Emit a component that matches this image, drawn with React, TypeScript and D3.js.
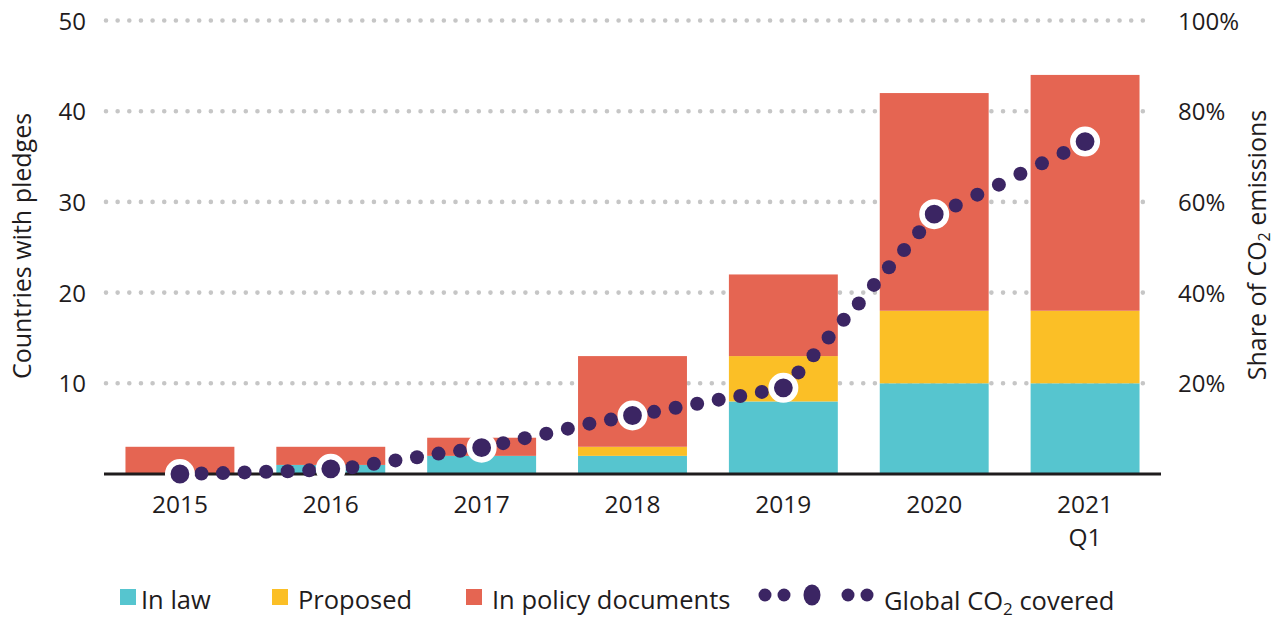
import { useEffect, useRef } from 'react';
import * as d3 from 'd3';

const categories = ['2015', '2016', '2017', '2018', '2019', '2020', '2021'];
const categorySubLabels = ['', '', '', '', '', '', 'Q1'];
const inLaw = [0, 1, 2, 2, 8, 10, 10];
const proposed = [0, 0, 0, 1, 5, 8, 8];
const inPolicy = [3, 2, 2, 10, 9, 24, 26];
const leftTicks = [10, 20, 30, 40, 50];
const rightTicks = [20, 40, 60, 80, 100];

// share of global CO2 covered (%), one list per stretch between two years;
// the first value of each list is the year itself (big dot)
const shareSegments = [
  [0, 0.1, 0.2, 0.35, 0.5, 0.6, 0.8],
  [1.15, 1.5, 2.25, 3.0, 3.7, 4.5, 5.1],
  [5.8, 6.8, 7.9, 8.9, 10.0, 11.1, 12.0],
  [12.9, 13.7, 14.6, 15.5, 16.4, 17.2, 18.1],
  [19.0, 22.4, 26.2, 30.1, 34.0, 37.6, 41.7, 45.6, 49.4, 53.3],
  [57.3, 59.2, 61.6, 63.8, 66.2, 68.5, 70.8],
];
const shareLast = 73.3;

const seriesKeys = ['inLaw', 'proposed', 'inPolicy'];
const seriesColors = ['#56c5cf', '#fbbf26', '#e56552'];
const seriesLabels = ['In law', 'Proposed', 'In policy documents'];
const dotColor = '#3b2563';
const textColor = '#1f1c1d';
const font = '"Open Sans", sans-serif';

const App = () => {
  const chartRef = useRef<SVGSVGElement>(null);

  useEffect(() => {
    drawChart();
  }, []);

  const drawChart = () => {
    const width = 1279;
    const height = 619;
    const svg = d3.select(chartRef.current);
    svg.selectAll('*').remove();
    svg.attr('width', width).attr('height', height);

    const x = d3.scaleBand<string>()
      .domain(categories)
      .range([104.5, 1160.5])
      .paddingInner(0.278)
      .paddingOuter(0.139);

    const y = d3.scaleLinear().domain([0, 50]).range([474, 20.5]);
    const yRight = d3.scaleLinear().domain([0, 100]).range([474, 20.5]);

    // dotted gridlines
    svg.append('g')
      .selectAll('line')
      .data(leftTicks)
      .enter().append('line')
      .attr('x1', 106)
      .attr('x2', 1154)
      .attr('y1', d => y(d))
      .attr('y2', d => y(d))
      .attr('stroke', '#c6c6c6')
      .attr('stroke-width', 4.6)
      .attr('stroke-linecap', 'round')
      .attr('stroke-dasharray', '0 11.65');

    // left ticks
    svg.append('g')
      .selectAll('text')
      .data(leftTicks)
      .enter().append('text')
      .attr('x', 86)
      .attr('y', d => y(d) + 9)
      .attr('text-anchor', 'end')
      .attr('font-family', font)
      .attr('font-size', 24)
      .attr('fill', textColor)
      .text(d => d);

    // right ticks
    svg.append('g')
      .selectAll('text')
      .data(rightTicks)
      .enter().append('text')
      .attr('x', 1178)
      .attr('y', d => yRight(d) + 9)
      .attr('font-family', font)
      .attr('font-size', 24)
      .attr('fill', textColor)
      .text(d => d + '%');

    // stacked bars
    const table = categories.map((c, i) => ({
      category: c,
      inLaw: inLaw[i],
      proposed: proposed[i],
      inPolicy: inPolicy[i],
    }));
    const stacked = d3.stack<any>().keys(seriesKeys)(table);

    svg.append('g')
      .selectAll('g')
      .data(stacked)
      .enter().append('g')
      .attr('fill', (_d, i) => seriesColors[i])
      .selectAll('rect')
      .data(d => d)
      .enter().append('rect')
      .attr('x', d => x(d.data.category)!)
      .attr('y', d => y(d[1]))
      .attr('width', x.bandwidth())
      .attr('height', d => y(d[0]) - y(d[1]));

    // baseline
    svg.append('line')
      .attr('x1', 104)
      .attr('x2', 1161)
      .attr('y1', y(0))
      .attr('y2', y(0))
      .attr('stroke', textColor)
      .attr('stroke-width', 3);

    // x labels
    const xl = svg.append('g')
      .selectAll('text')
      .data(categories)
      .enter().append('text')
      .attr('x', d => x(d)! + x.bandwidth() / 2)
      .attr('y', 513)
      .attr('text-anchor', 'middle')
      .attr('font-family', font)
      .attr('font-size', 24.5)
      .attr('fill', textColor);
    xl.append('tspan').text(d => d);
    xl.append('tspan')
      .attr('x', d => x(d)! + x.bandwidth() / 2)
      .attr('dy', 33)
      .text((_d, i) => categorySubLabels[i]);

    // coverage dots
    const xt = d3.scaleLinear()
      .domain([0, categories.length - 1])
      .range([x(categories[0])! + x.bandwidth() / 2, x(categories[categories.length - 1])! + x.bandwidth() / 2]);
    const dots: { t: number; v: number; big: boolean }[] = [];
    shareSegments.forEach((seg, i) => {
      seg.forEach((v, k) => dots.push({ t: i + k / seg.length, v, big: k === 0 }));
    });
    dots.push({ t: categories.length - 1, v: shareLast, big: true });

    svg.append('g')
      .selectAll('circle')
      .data(dots.filter(d => !d.big))
      .enter().append('circle')
      .attr('cx', d => xt(d.t))
      .attr('cy', d => yRight(d.v))
      .attr('r', 7)
      .attr('fill', dotColor);

    svg.append('g')
      .selectAll('circle')
      .data(dots.filter(d => d.big))
      .enter().append('circle')
      .attr('cx', d => xt(d.t))
      .attr('cy', d => yRight(d.v))
      .attr('r', 12.2)
      .attr('fill', dotColor)
      .attr('stroke', '#fff')
      .attr('stroke-width', 5.6);

    // axis titles
    svg.append('text')
      .attr('transform', 'translate(31,246) rotate(-90)')
      .attr('text-anchor', 'middle')
      .attr('font-family', font)
      .attr('font-size', 25)
      .attr('fill', textColor)
      .text('Countries with pledges');

    const rt = svg.append('text')
      .attr('transform', 'translate(1266,245) rotate(-90)')
      .attr('text-anchor', 'middle')
      .attr('font-family', font)
      .attr('font-size', 25)
      .attr('fill', textColor);
    rt.append('tspan').text('Share of CO');
    rt.append('tspan').attr('font-size', 16).attr('dy', 4).text('2');
    rt.append('tspan').attr('dy', -4).text(' emissions');

    // legend
    const legendX = [120, 272, 466];
    const legend = svg.append('g');
    seriesLabels.forEach((label, i) => {
      legend.append('rect')
        .attr('x', legendX[i])
        .attr('y', 589)
        .attr('width', 16)
        .attr('height', 16)
        .attr('fill', seriesColors[i]);
      legend.append('text')
        .attr('x', legendX[i] + (i === 0 ? 21 : 26))
        .attr('y', 609)
        .attr('font-family', font)
        .attr('font-size', 25.5)
        .attr('fill', textColor)
        .text(label);
    });
    [765, 784, 848, 867].forEach(cx => {
      legend.append('circle').attr('cx', cx).attr('cy', 595).attr('r', 6.5).attr('fill', dotColor);
    });
    legend.append('ellipse')
      .attr('cx', 812)
      .attr('cy', 595)
      .attr('rx', 8.5)
      .attr('ry', 10.5)
      .attr('fill', dotColor);
    const gt = legend.append('text')
      .attr('x', 884)
      .attr('y', 610)
      .attr('font-family', font)
      .attr('font-size', 25.5)
      .attr('fill', textColor);
    gt.append('tspan').text('Global CO');
    gt.append('tspan').attr('font-size', 17).attr('dy', 5).text('2');
    gt.append('tspan').attr('dy', -5).text(' covered');
  };

  return (
    <svg ref={chartRef} style={{ position: 'absolute', left: 0, top: 0, display: 'block' }} />
  );
};

export default App;
